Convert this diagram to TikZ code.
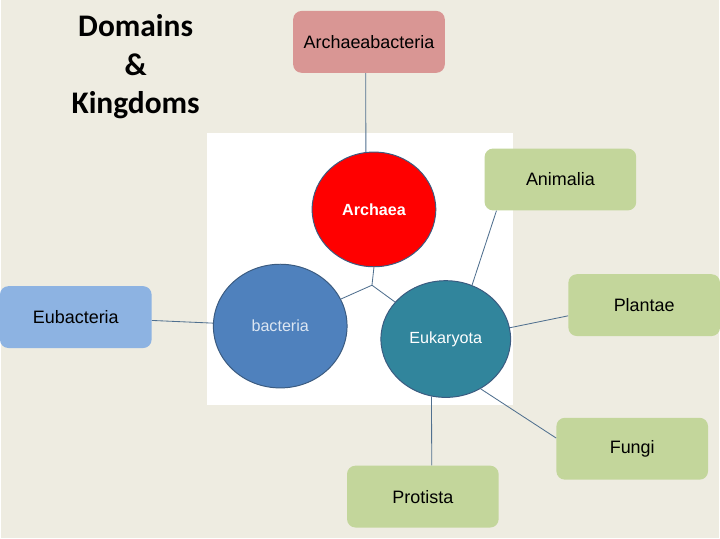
\documentclass[tikz,border=0pt]{standalone}
\usepackage{fontspec}
\setmainfont{Liberation Sans}
\newfontfamily\titlefont{Carlito}
\usetikzlibrary{shapes.geometric}
\definecolor{paper}{HTML}{EEECE1}
\definecolor{rose}{HTML}{D99694}
\definecolor{sage}{HTML}{C3D69B}
\definecolor{sky}{HTML}{8DB3E2}
\definecolor{steel}{HTML}{4F81BD}
\definecolor{teal}{HTML}{31859C}
\definecolor{rim}{HTML}{3B5B80}
\definecolor{wire}{HTML}{50708F}
\definecolor{pale}{HTML}{DCE6F2}

\begin{document}
\begin{tikzpicture}[x=0.025cm, y=-0.025cm,
      kbox/.style={rounded corners=6pt, minimum width=3.8cm, minimum height=1.55cm, inner sep=0pt,
                   font=\fontsize{12.8}{15}\selectfont},
      dom/.style={ellipse, draw=rim, line width=0.7pt, inner sep=0pt, font=\fontsize{11.5}{14}\selectfont},
      link/.style={wire, line width=0.6pt}]
    \fill[paper] (0,0) rectangle (720,540);
    \fill[white] (207,133) rectangle (513,406);
    \node[align=center, font=\titlefont\bfseries\fontsize{22.4}{27.4}\selectfont] (title) at (135,67) {Domains\\\&\\Kingdoms};
    % domains
    \node[dom, fill=red, text=white, minimum width=3.1cm, minimum height=2.875cm, font=\fontsize{11.5}{14}\selectfont\bfseries] (arch) at (374,210) {Archaea};
    \node[dom, fill=steel, text=pale, minimum width=3.35cm, minimum height=3.1cm] (bact) at (280,327) {bacteria};
    \node[dom, fill=teal, text=white, minimum width=3.25cm, minimum height=2.925cm] (euk) at (446,340) {Eukaryota};
    \coordinate (j) at (372,286);
    \draw[link] (j) -- (arch.south); \draw[link] (j) -- (bact); \draw[link] (j) -- (euk);
    % kingdoms
    \node[kbox, fill=rose] (arcb) at (369,42) {Archaeabacteria};
    \node[kbox, fill=sky] (eub) at (75,318) {Eubacteria};
    \node[kbox, fill=sage] (anim) at (561,180) {Animalia};
    \node[kbox, fill=sage] (plan) at (645,306) {Plantae};
    \node[kbox, fill=sage] (fungi) at (633,450) {Fungi};
    \node[kbox, fill=sage] (prot) at (423,498) {Protista};
    \draw[link] (arcb.-96) -- (arch.98);
    \draw[link] (eub) -- (bact);
    \draw[link] (euk.64) -- (anim.-154);
    \draw[link] (euk.10) -- (plan.188);
    \draw[link] (euk.-55) -- (fungi.172);
    \draw[link] (euk.-104) -- (prot.74);
  \end{tikzpicture}
\end{document}
